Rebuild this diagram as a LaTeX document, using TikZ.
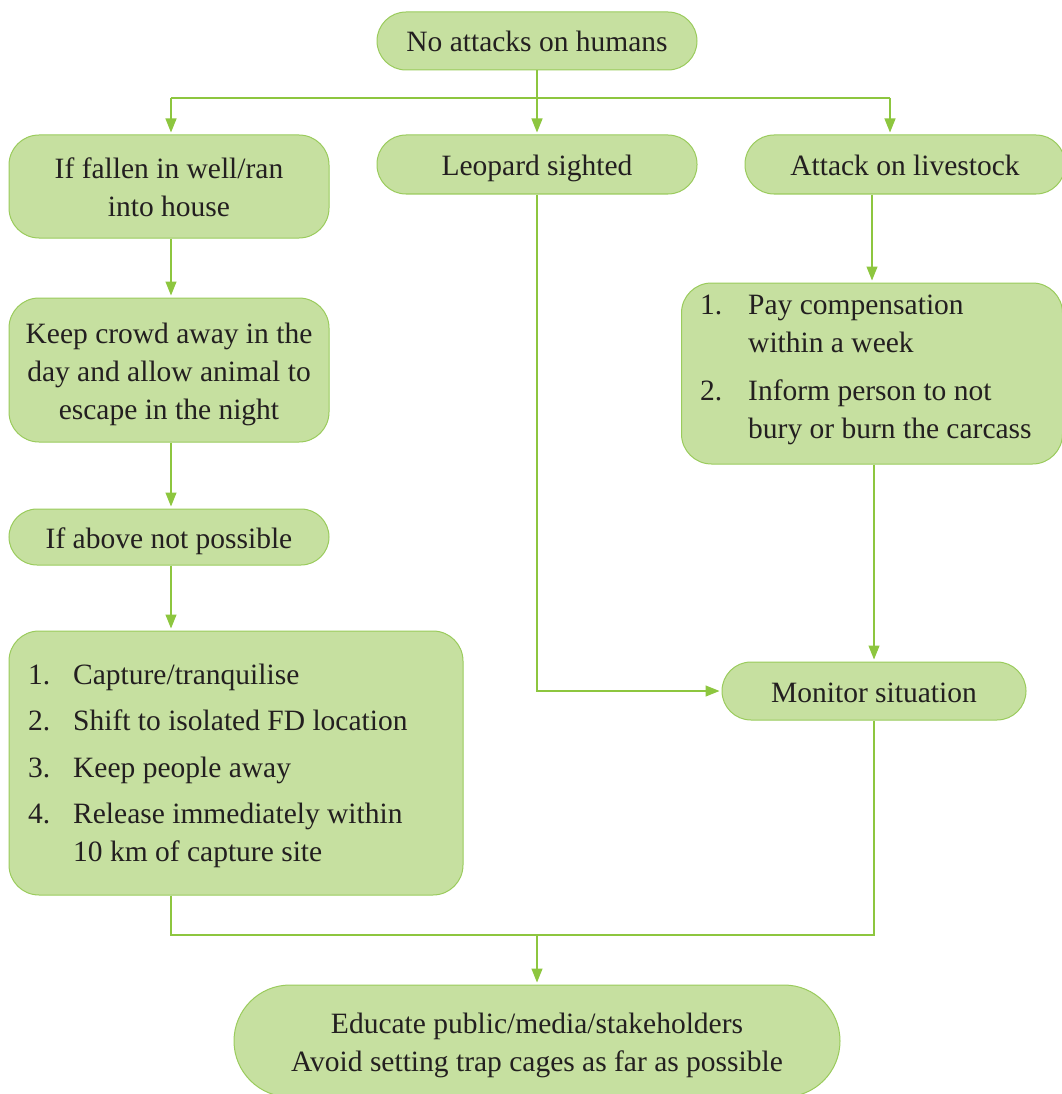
\documentclass[tikz,border=0pt]{standalone}
\usepackage{fontspec}
\setmainfont{Liberation Serif}
\usetikzlibrary{arrows.meta,calc}
\definecolor{boxfill}{HTML}{C6E0A0}
\definecolor{boxline}{HTML}{9ACB5C}
\definecolor{conn}{HTML}{8DC63F}
\definecolor{txt}{HTML}{231F20}
\newcommand\lnstrut{\rule[-8pt]{0pt}{38pt}}
\tikzset{
  box/.style={draw=boxline, fill=boxfill, line width=1pt, inner sep=0pt, align=center,
    text=txt, font=\fontsize{29.5}{38}\selectfont},
  line/.style={draw=conn, line width=1.2pt},
  arr/.style={line, -{Triangle[length=14pt,width=11pt]}, shorten >=2pt},
  itm/.style={anchor=base west, inner sep=0pt, text=txt, font=\fontsize{29.5}{38}\selectfont},
}
\begin{document}
\begin{tikzpicture}[x=1pt,y=-1pt]
\useasboundingbox (0,0) rectangle (1061,1094);
\node[box, minimum width=320, minimum height=58, rounded corners=29] (n0) at (537,41) {\lnstrut No attacks on humans};
\node[box, minimum width=320, minimum height=103, rounded corners=30] (b1) at (169,186.5) {\lnstrut If fallen in well/ran\\\lnstrut into house};
\node[box, minimum width=320, minimum height=59, rounded corners=29] (b2) at (537,164.5) {\lnstrut Leopard sighted};
\node[box, minimum width=320, minimum height=59, rounded corners=29] (b3) at (905,164.5) {\lnstrut Attack on livestock};
\node[box, minimum width=320, minimum height=144, rounded corners=30] (b4) at (169,370) {\lnstrut Keep crowd away in the\\\lnstrut day and allow animal to\\\lnstrut escape in the night};
\node[box, minimum width=320, minimum height=56, rounded corners=28] (b5) at (169,537) {\lnstrut If above not possible};
\node[box, minimum width=454, minimum height=264, rounded corners=30] (b6) at (236,763) {};
\node[box, minimum width=381, minimum height=181, rounded corners=30] (b7) at (872,373.5) {};
\node[box, minimum width=304, minimum height=58, rounded corners=29] (b8) at (874,691) {\lnstrut Monitor situation};
\node[box, minimum width=606, minimum height=112, rounded corners=56] (b9) at (537,1041) {\lnstrut Educate public/media/stakeholders\\\lnstrut Avoid setting trap cages as far as possible};
% list texts in b6
\node[itm] (l1n) at (28,684) {1.};
\node[itm] (l1t) at (73,684) {Capture/tranquilise};
\node[itm] (l2n) at (28,730) {2.};
\node[itm] (l2t) at (73,730) {Shift to isolated FD location};
\node[itm] (l3n) at (28,777) {3.};
\node[itm] (l3t) at (73,777) {Keep people away};
\node[itm] (l4n) at (28,823) {4.};
\node[itm] (l4t) at (73,823) {Release immediately within};
\node[itm] (l4u) at (73,861) {10 km of capture site};
% list texts in b7
\node[itm] (m1n) at (700,314) {1.};
\node[itm] (m1t) at (748,314) {Pay compensation};
\node[itm] (m1u) at (748,352) {within a week};
\node[itm] (m2n) at (700,400) {2.};
\node[itm] (m2t) at (748,400) {Inform person to not};
\node[itm] (m2u) at (748,438) {bury or burn the carcass};
% connectors
\coordinate (hl) at (171,98);
\coordinate (hr) at (890,98);
\coordinate (j) at (537,935);
\draw[arr] (n0.south) -- (b2.north);
\draw[line] (hl) -- (hr);
\draw[arr] (hl) -- (hl |- b1.north);
\draw[arr] (hr) -- (hr |- b3.north);
\draw[arr] (b1.south -| hl) -- (hl |- b4.north);
\draw[arr] (b4.south -| hl) -- (hl |- b5.north);
\draw[arr] (b5.south -| hl) -- (hl |- b6.north);
\draw[arr] (b7.north |- b3.south) -- (b7.north);
\draw[arr] (b8.north |- b7.south) -- (b8.north);
\draw[arr] (b2.south) |- (b8.west);
\draw[line] (b6.south -| hl) |- (b8.south |- j) -- (b8.south);
\draw[arr] (j) -- (b9.north);
\end{tikzpicture}
\end{document}
